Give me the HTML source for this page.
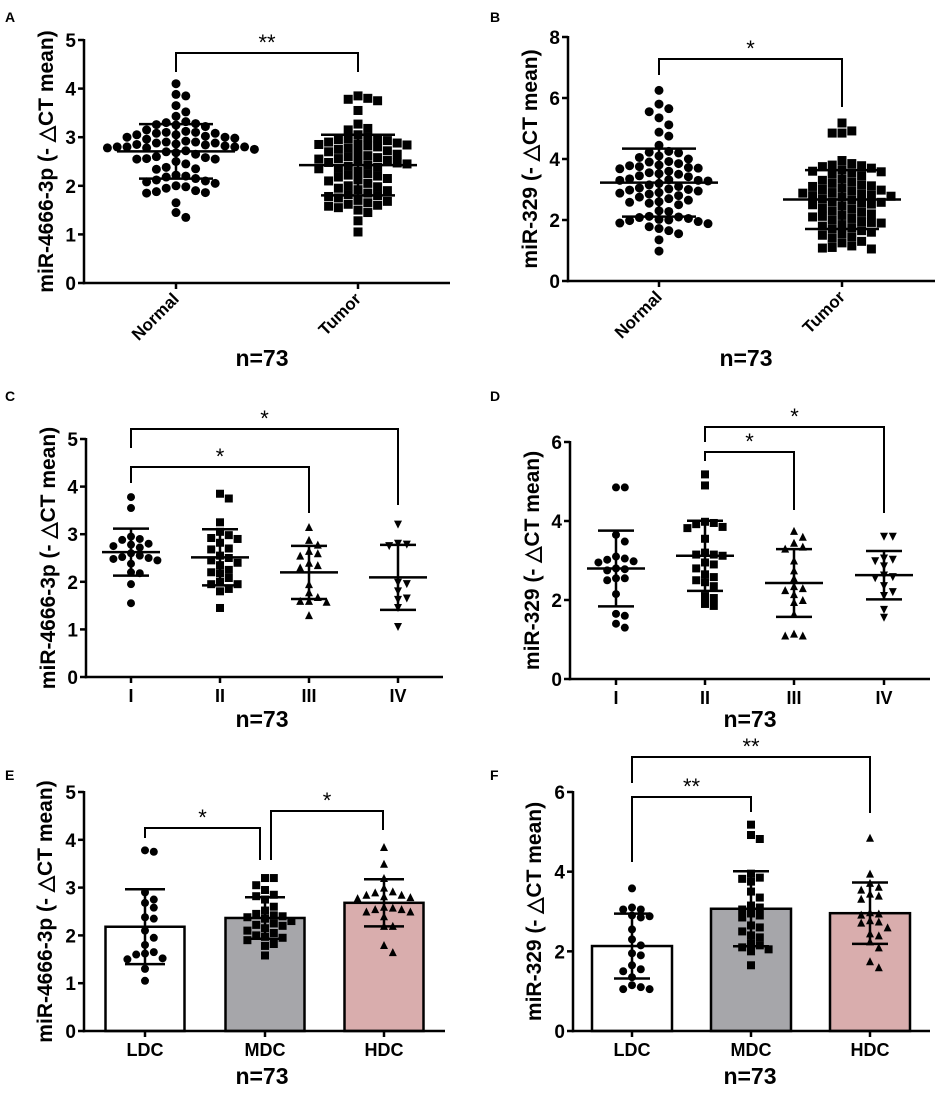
<!DOCTYPE html>
<html><head><meta charset="utf-8"><style>
html,body{margin:0;padding:0;background:#fff;}
svg{display:block;font-family:"Liberation Sans",Arial,sans-serif;}
</style></head><body>
<svg id="fig" width="938" height="1093" viewBox="0 0 938 1093"></svg>
<script>
// ---- data ----
const catsAB = ["Normal","Tumor"];
const catsCD = ["I","II","III","IV"];
const catsEF = ["LDC","MDC","HDC"];
const ticksA = [0,1,2,3,4,5];
const ticksB = [0,2,4,6,8];
const ticksC = [0,1,2,3,4,5];
const ticksD = [0,2,4,6];
const ticksE = [0,1,2,3,4,5];
const ticksF = [0,2,4,6];
const aNormal = [4.1,3.88,3.85,3.65,3.52,3.43,3.32,3.3,3.28,3.26,3.25,3.22,3.15,3.12,3.1,3.1,3.08,3.08,3.05,3.05,3.02,3.0,3.0,2.98,2.96,2.92,2.9,2.9,2.88,2.88,2.86,2.85,2.84,2.82,2.8,2.8,2.8,2.8,2.78,2.78,2.75,2.72,2.7,2.68,2.65,2.6,2.58,2.56,2.55,2.55,2.5,2.45,2.38,2.35,2.34,2.22,2.2,2.18,2.15,2.12,2.1,2.08,2.05,2.0,1.98,1.95,1.9,1.88,1.86,1.85,1.65,1.45,1.35];
const aTumor = [3.85,3.8,3.78,3.75,3.55,3.27,3.18,3.15,3.05,3.0,2.98,2.97,2.95,2.93,2.9,2.88,2.86,2.85,2.84,2.82,2.8,2.78,2.75,2.72,2.7,2.68,2.65,2.62,2.6,2.58,2.56,2.55,2.52,2.5,2.48,2.47,2.45,2.43,2.4,2.38,2.36,2.35,2.3,2.25,2.22,2.2,2.18,2.15,2.12,2.1,2.05,2.0,1.98,1.95,1.92,1.9,1.85,1.82,1.8,1.78,1.75,1.7,1.68,1.65,1.62,1.6,1.58,1.55,1.5,1.45,1.28,1.05];
const bNormal = [6.25,5.8,5.65,5.55,5.35,5.12,4.88,4.75,4.45,4.25,4.22,4.2,4.1,4.05,4.0,3.92,3.9,3.85,3.8,3.78,3.75,3.72,3.7,3.68,3.6,3.55,3.52,3.5,3.45,3.42,3.35,3.32,3.3,3.3,3.28,3.2,3.15,3.1,3.05,3.02,3.0,2.98,2.95,2.9,2.88,2.85,2.8,2.75,2.7,2.65,2.6,2.58,2.55,2.5,2.3,2.28,2.12,2.1,2.08,2.05,2.02,2.0,1.98,1.95,1.9,1.88,1.78,1.72,1.65,1.55,1.35,0.98];
const bTumor = [5.18,4.92,4.85,4.85,3.95,3.85,3.8,3.78,3.75,3.7,3.65,3.6,3.58,3.55,3.5,3.45,3.35,3.3,3.25,3.2,3.15,3.12,3.1,3.05,3.0,2.98,2.95,2.9,2.88,2.85,2.82,2.8,2.78,2.75,2.7,2.65,2.6,2.58,2.55,2.52,2.5,2.45,2.4,2.35,2.3,2.25,2.2,2.15,2.12,2.1,2.05,2.0,1.95,1.92,1.9,1.85,1.8,1.75,1.7,1.65,1.6,1.55,1.5,1.45,1.4,1.3,1.25,1.15,1.1,1.08,1.05];
const cI = [3.78,3.55,2.95,2.9,2.88,2.8,2.78,2.75,2.72,2.6,2.55,2.52,2.5,2.48,2.45,2.38,2.2,2.18,1.95,1.55];
const cII = [3.85,3.75,3.25,3.05,2.98,2.92,2.9,2.82,2.7,2.68,2.55,2.5,2.45,2.4,2.35,2.25,2.2,2.18,2.08,2.0,1.95,1.95,1.85,1.8,1.45];
const cIII = [3.15,2.88,2.78,2.65,2.6,2.55,2.4,2.35,2.3,1.95,1.78,1.68,1.6,1.6,1.58,1.3];
const cIV = [3.2,2.8,2.78,2.75,1.98,1.95,1.8,1.65,1.62,1.45,1.05];
const dI = [4.85,4.85,3.65,3.48,3.1,3.05,3.02,2.98,2.95,2.8,2.78,2.75,2.55,2.55,2.5,2.15,1.65,1.6,1.4,1.3];
const dII = [5.18,4.9,3.98,3.95,3.92,3.85,3.82,3.55,3.2,3.15,3.15,3.12,2.95,2.9,2.8,2.65,2.58,2.5,2.45,2.35,2.1,2.05,1.9,1.85];
const dIII = [3.75,3.6,3.45,3.35,3.3,3.0,2.75,2.55,2.35,2.3,2.25,2.15,2.0,1.95,1.65,1.15,1.1,1.1];
const dIV = [3.6,3.6,3.05,3.02,2.98,2.85,2.62,2.58,2.55,2.35,2.2,2.1,1.75,1.55];
const eLDC = [3.78,3.75,2.9,2.75,2.68,2.58,2.38,2.35,2.1,1.95,1.8,1.65,1.62,1.6,1.52,1.5,1.3,1.05];
const eMDC = [3.2,3.2,3.05,2.95,2.85,2.82,2.75,2.6,2.52,2.45,2.42,2.4,2.38,2.35,2.3,2.25,2.22,2.2,2.15,2.1,2.05,2.0,1.97,1.95,1.9,1.82,1.78,1.58];
const eHDC = [3.85,3.5,3.2,3.0,2.92,2.9,2.85,2.85,2.82,2.8,2.78,2.6,2.58,2.55,2.55,2.5,2.5,2.4,2.2,2.2,1.8,1.65];
const fLDC = [3.58,3.1,3.05,3.05,2.9,2.88,2.85,2.55,2.3,2.15,1.95,1.9,1.65,1.55,1.5,1.35,1.15,1.1,1.05,1.05];
const fMDC = [5.18,4.92,4.82,3.95,3.85,3.82,3.75,3.5,3.35,3.15,3.1,3.05,2.95,2.9,2.85,2.65,2.6,2.5,2.4,2.35,2.2,2.15,2.1,2.05,2.0,1.65];
const fHDC = [4.85,3.95,3.72,3.62,3.55,3.45,3.4,3.32,2.98,2.95,2.92,2.78,2.75,2.72,2.6,2.45,2.4,2.25,2.1,1.75,1.6];

const NS = "http://www.w3.org/2000/svg";
const svg = document.getElementById("fig");
function mk(tag, attrs, parent){
  const e = document.createElementNS(NS, tag);
  for (const k in attrs) e.setAttribute(k, attrs[k]);
  (parent||svg).appendChild(e);
  return e;
}
function stats(a){ const m=a.reduce((s,v)=>s+v,0)/a.length; const sd=Math.sqrt(a.reduce((s,v)=>s+(v-m)*(v-m),0)/(a.length-1)); return [m,sd]; }

function marker(shape, x, y, s, g){
  let e;
  if (shape==="circle") e = mk("circle",{cx:x,cy:y,r:s/2,fill:"#000"},g);
  else if (shape==="square") e = mk("rect",{x:x-s/2,y:y-s/2,width:s,height:s,fill:"#000"},g);
  else if (shape==="up") e = mk("polygon",{points:`${x},${y-s/2} ${x+s/2},${y+s/2} ${x-s/2},${y+s/2}`,fill:"#000"},g);
  else e = mk("polygon",{points:`${x},${y+s/2} ${x+s/2},${y-s/2} ${x-s/2},${y-s/2}`,fill:"#000"},g);
  
  
}

function swarm(vals, yf, cx, d){
  const sorted = vals.slice().sort((a,b)=>b-a);
  const placed = [];
  sorted.forEach(v=>{
    const y = yf(v);
    for (let k=0;k<40;k++){
      const off = (k===0)?0:((k%2?1:-1)*Math.ceil(k/2)*d);
      const x = cx+off;
      if (placed.every(p=>(p[0]-x)*(p[0]-x)+(p[1]-y)*(p[1]-y) >= d*d*0.75)){ placed.push([x,y]); break; }
    }
  });
  return placed;
}

function panel(cfg){
  const g = mk("g",{});
  
  
  const yf = v => cfg.y0 - v * (cfg.y0 - cfg.yTop) / cfg.ticks[cfg.ticks.length-1];
  const L = mk("text",{x:cfg.letterX,y:cfg.letterY,"font-size":14,"font-weight":"bold"},g);
  L.textContent = cfg.letter;
  
  
  if (cfg.bars){
    cfg.groups.forEach((vals,i)=>{
      const [m] = stats(vals);
      const b = mk("rect",{x:cfg.xs[i]-cfg.barW/2,y:yf(m),width:cfg.barW,height:cfg.y0-yf(m),fill:cfg.barFill[i],stroke:"#000","stroke-width":2.5},g);
      
      
    });
  }
  cfg.groups.forEach((vals,i)=>{
    const pts = swarm(vals, yf, cfg.xs[i], cfg.ms+0.8);
    pts.forEach(p=>marker(cfg.shapes[i], p[0], p[1], cfg.ms, g));
  });
  cfg.groups.forEach((vals,i)=>{
    const [m,sd] = stats(vals); const x=cfg.xs[i];
    const eg = mk("g",{stroke:"#000","stroke-width":2.5,fill:"none"},g);
    
    
    mk("line",{x1:x,x2:x,y1:yf(m+sd),y2:yf(m-sd)},eg);
    mk("line",{x1:x-cfg.cap,x2:x+cfg.cap,y1:yf(m+sd),y2:yf(m+sd)},eg);
    mk("line",{x1:x-cfg.cap,x2:x+cfg.cap,y1:yf(m-sd),y2:yf(m-sd)},eg);
    if (!cfg.bars) mk("line",{x1:x-cfg.meanW,x2:x+cfg.meanW,y1:yf(m),y2:yf(m)},eg);
  });
  const ax = mk("g",{stroke:"#000","stroke-width":2.5},g);
  
  
  mk("line",{x1:cfg.ax,x2:cfg.ax,y1:cfg.yTop-1,y2:cfg.y0+1.2},ax);
  mk("line",{x1:cfg.ax-1.2,x2:cfg.xEnd,y1:cfg.y0,y2:cfg.y0},ax);
  cfg.ticks.forEach(t=>{
    mk("line",{x1:cfg.ax-6,x2:cfg.ax,y1:yf(t),y2:yf(t)},ax);
    const tl = mk("text",{x:cfg.ax-8,y:yf(t)+7,"text-anchor":"end","font-size":19,"font-weight":"bold"},g);
    tl.textContent = t;
    
    
  });
  cfg.xs.forEach((x,i)=>{
    mk("line",{x1:x,x2:x,y1:cfg.y0,y2:cfg.y0+6},ax);
    let tl;
    if (cfg.rot){
      tl = mk("text",{x:x+4,y:cfg.y0+17,"text-anchor":"end","font-size":17,"font-weight":"bold",transform:`rotate(-45 ${x+4} ${cfg.y0+17})`},g);
    } else {
      tl = mk("text",{x:x,y:cfg.y0+25,"text-anchor":"middle","font-size":18,"font-weight":"bold"},g);
    }
    tl.textContent = cfg.cats[i];
    
    
  });
  const cy = (cfg.y0+cfg.yTop)/2;
  const yt = mk("text",{x:cfg.ytX,y:cy,"text-anchor":"middle","font-size":21,"font-weight":"bold",transform:`rotate(-90 ${cfg.ytX} ${cy})`},g);
  yt.textContent = cfg.ytitle;
  
  
  const n = mk("text",{x:cfg.nX,y:cfg.nY,"text-anchor":"middle","font-size":23,"font-weight":"bold"},g);
  n.textContent = "n=73";
  
  
  cfg.brackets.forEach(b=>{
    const bg = mk("g",{},g);
    
    
    mk("polyline",{points:`${b[0]},${b[3]} ${b[0]},${b[2]} ${b[1]},${b[2]} ${b[1]},${b[4]}`,fill:"none",stroke:"#000","stroke-width":2},bg);
    const st = mk("text",{x:(b[0]+b[1])/2,y:b[2]-3,"text-anchor":"middle","font-size":22},bg);
    st.textContent = b[5];
  });
}

const titleA = "miR-4666-3p (- \u25B3CT mean)";
const titleB = "miR-329 (- \u25B3CT mean)";

panel({name:"panel-a",letter:"A",letterX:5,letterY:22,ax:84,y0:283,yTop:40,xEnd:450,ticks:ticksA,xs:[176,358],cats:catsAB,groups:[aNormal,aTumor],shapes:["circle","square"],ms:9,cap:37,meanW:59,rot:true,ytX:53,ytitle:titleA,nX:262,nY:366,brackets:[[176,358,53,72,72,"**"]]});
panel({name:"panel-b",letter:"B",letterX:490,letterY:22,ax:568,y0:281,yTop:37,xEnd:935,ticks:ticksB,xs:[659,842],cats:catsAB,groups:[bNormal,bTumor],shapes:["circle","square"],ms:9,cap:37,meanW:59,rot:true,ytX:537,ytitle:titleB,nX:746,nY:366,brackets:[[659,842,59,75,107,"*"]]});
panel({name:"panel-c",letter:"C",letterX:5,letterY:401,ax:86,y0:677,yTop:439,xEnd:443,ticks:ticksC,xs:[131,220,309,398],cats:catsCD,groups:[cI,cII,cIII,cIV],shapes:["circle","square","up","down"],ms:8,cap:18,meanW:29,rot:false,ytX:55,ytitle:titleA,nX:262,nY:727,brackets:[[131,398,429,448,505,"*"],[131,309,467,483,513,"*"]]});
panel({name:"panel-d",letter:"D",letterX:490,letterY:401,ax:570,y0:679,yTop:442,xEnd:930,ticks:ticksD,xs:[616,705,794,884],cats:catsCD,groups:[dI,dII,dIII,dIV],shapes:["circle","square","up","down"],ms:8,cap:18,meanW:29,rot:false,ytX:539,ytitle:titleB,nX:750,nY:727,brackets:[[705,884,427,442,513,"*"],[705,794,452,461,510,"*"]]});
panel({name:"panel-e",letter:"E",letterX:5,letterY:780,ax:84,y0:1031,yTop:792,xEnd:445,ticks:ticksE,xs:[145,265,384],cats:catsEF,groups:[eLDC,eMDC,eHDC],shapes:["circle","square","up"],ms:8,cap:20,meanW:0,bars:true,barW:79,barFill:["#ffffff","#a6a6aa","#d9adad"],rot:false,ytX:52,ytitle:titleA,nX:262,nY:1084,brackets:[[145,260,828,838,860,"*"],[271,383,811,860,830,"*"]]});
panel({name:"panel-f",letter:"F",letterX:490,letterY:780,ax:573,y0:1031,yTop:792,xEnd:930,ticks:ticksF,xs:[632,751,870],cats:catsEF,groups:[fLDC,fMDC,fHDC],shapes:["circle","square","up"],ms:8,cap:18,meanW:0,bars:true,barW:80,barFill:["#ffffff","#a6a6aa","#d9adad"],rot:false,ytX:541,ytitle:titleB,nX:750,nY:1084,brackets:[[632,870,757,783,813,"**"],[632,751,797,862,812,"**"]]});
</script>
</body></html>
